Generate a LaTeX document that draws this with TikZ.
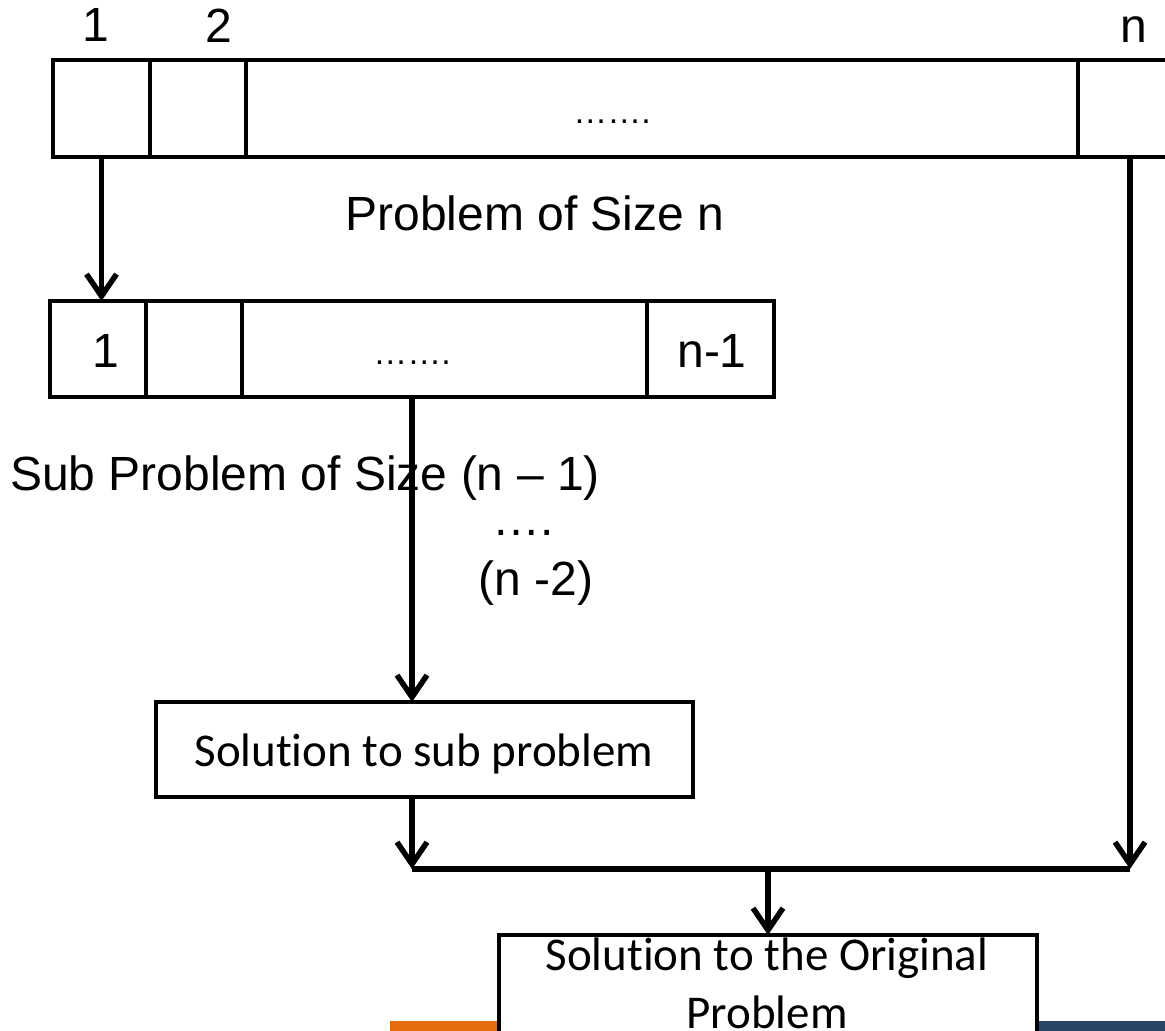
\documentclass[tikz,border=0pt]{standalone}
\usepackage{fontspec}
\setmainfont{Liberation Sans}
\newfontfamily\calfont[Ligatures={NoCommon}]{Carlito}
\newcommand{\nl}{\kern0pt}
\usetikzlibrary{arrows.meta}
\definecolor{barorange}{HTML}{E46C0A}
\definecolor{barblue}{HTML}{2A4466}
\begin{document}
\begin{tikzpicture}[x=1pt,y=-1pt,
  cell/.style={draw,line width=4.5pt,rectangle,inner sep=0pt,outer sep=0pt},
  lbl/.style={font=\fontsize{48}{58}\selectfont,inner sep=0pt,anchor=base},
  smalldots/.style={font=\fontsize{34}{40}\selectfont,inner sep=0pt,anchor=base},
  cal/.style={font=\calfont\fontsize{47}{58}\selectfont,inner sep=0pt,anchor=base},
  arr/.style={line width=5.5pt,-{Straight Barb[length=22pt,width=30pt]}},
  ln/.style={line width=5.5pt}
]
\clip (0,0) rectangle (1165,1031);
\fill[white] (0,0) rectangle (1165,1031);

% top row: problem of size n
\node[cell,minimum width=97pt,minimum height=97pt] (t1) at (101.5,108.5) {};
\node[cell,minimum width=96pt,minimum height=97pt] (t2) at (198,108.5) {};
\node[cell,minimum width=832pt,minimum height=97pt] (t3) at (662,108.5) {};
\node[cell,minimum width=104pt,minimum height=97pt] (t4) at (1130,108.5) {};
\node[smalldots] (tdots) at (612,123) {…….};
\node[lbl] (l1) at (96,41) {1};
\node[lbl] (l2) at (219,42) {2};
\node[lbl] (lnn) at (1134,42) {n};
\node[lbl] (pn) at (535,230) {Problem of Size n};

% second row: sub problem
\node[cell,minimum width=96pt,minimum height=96pt] (s1) at (98,349) {};
\node[cell,minimum width=96pt,minimum height=96pt] (s2) at (194,349) {};
\node[cell,minimum width=405pt,minimum height=96pt] (s3) at (444.5,349) {};
\node[cell,minimum width=127pt,minimum height=96pt] (s4) at (710.5,349) {};
\node[lbl] (s1t) at (106,367) {1};
\node[smalldots] (s3t) at (412,364) {…….};
\node[lbl] (s4t) at (712,367) {n-1};

\node[lbl,anchor=base west] (sub) at (10,490) {Sub Problem of Size (n – 1)};
\node[lbl] (dd) at (523,535) {….};
\node[lbl] (nm2) at (536,595) {(n -2)};

% solution to sub problem
\node[cell,minimum width=537pt,minimum height=95pt] (sol) at (424.5,749.5) {};
\node[cal] (solt) at (424,766) {Solut\nl ion to sub problem};

% bottom bars and final box
\fill[barorange] (390,1021) rectangle (768,1031);
\fill[barblue] (768,1021) rectangle (1165,1031);
\node[cell,fill=white,minimum width=538pt,minimum height=125pt] (fin) at (768,997.5) {};
\node[cal] (fin1) at (767,970) {Solut\nl ion to the Original};
\node[cal] (fin2) at (767,1028) {Problem};

% junctions
\coordinate (j1) at (412,869);
\coordinate (j2) at (t4.south |- j1);
\coordinate (jm) at (fin.north |- j1);

% connectors
\draw[arr] (t1.south) -- (t1.south |- s1.north);
\draw[arr] ([xshift=-32.5pt]s3.south) -- ([xshift=-12.5pt]sol.north);
\draw[arr] ([xshift=-12.5pt]sol.south) -- (j1);
\draw[arr] (t4.south) -- (j2);
\draw[ln] (j1) -- (j2);
\draw[arr] (jm) -- (fin.north);
\end{tikzpicture}
\end{document}
